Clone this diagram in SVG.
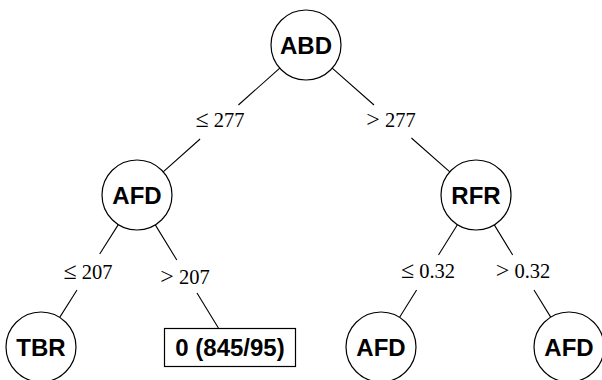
<svg xmlns="http://www.w3.org/2000/svg" width="602" height="380" viewBox="0 0 602 380">
<style>
.n{fill:#fff;stroke:#000;stroke-width:1.2}
.t{font-family:"Liberation Sans",Arial,sans-serif;font-weight:bold;font-size:24px;text-anchor:middle;fill:#000}
.e{stroke:#000;stroke-width:1.1;fill:none}
.l{font-family:"Liberation Serif","Times New Roman",serif;font-size:20.5px;text-anchor:middle;fill:#000}
.s{font-size:24px}
</style>
<rect width="602" height="380" fill="#fff"/>
<g id="connectors">
<path class="e" d="M279.8,68.2 L238.4,105 M200.1,139 L163.2,171.8"/>
<path class="e" d="M332.2,68.2 L374,105 M411.4,138 L449.8,171.8"/>
<path class="e" d="M118.3,224.6 L99.7,254 M77,290 L59.7,317.4"/>
<path class="e" d="M155.3,224.9 L176.8,260 M197,293 L218.4,328"/>
<path class="e" d="M457.4,224.7 L438.5,255 M416.6,290 L399.6,317.3"/>
<path class="e" d="M494.3,224.9 L512.7,255 M534,290 L550.7,317.1"/>
<text class="l" x="220" y="127"><tspan class="s">≤</tspan> 277</text>
<text class="l" x="391" y="127"><tspan class="s">&gt;</tspan> 277</text>
<text class="l" x="88" y="279"><tspan class="s">≤</tspan> 207</text>
<text class="l" x="185" y="284"><tspan class="s">&gt;</tspan> 207</text>
<text class="l" x="428" y="278"><tspan class="s">≤</tspan> 0.32</text>
<text class="l" x="523" y="278"><tspan class="s">&gt;</tspan> 0.32</text>
</g>
<g id="ABD"><circle class="n" cx="306" cy="45" r="35"/><text class="t" x="306" y="53.5">ABD</text></g>
<g id="AFD1"><circle class="n" cx="137" cy="195" r="35"/><text class="t" x="137" y="203.5">AFD</text></g>
<g id="RFR"><circle class="n" cx="476" cy="195" r="35"/><text class="t" x="476" y="203.5">RFR</text></g>
<g id="TBR"><circle class="n" cx="41" cy="347" r="35"/><text class="t" x="41" y="355.5">TBR</text></g>
<g id="leaf"><rect class="n" x="164.5" y="328.5" width="131" height="38"/><text class="t" x="230" y="356">0 (845/95)</text></g>
<g id="AFD2"><circle class="n" cx="381" cy="347" r="35"/><text class="t" x="381" y="355.5">AFD</text></g>
<g id="AFD3"><circle class="n" cx="569" cy="347" r="35"/><text class="t" x="569" y="355.5">AFD</text></g>
</svg>
